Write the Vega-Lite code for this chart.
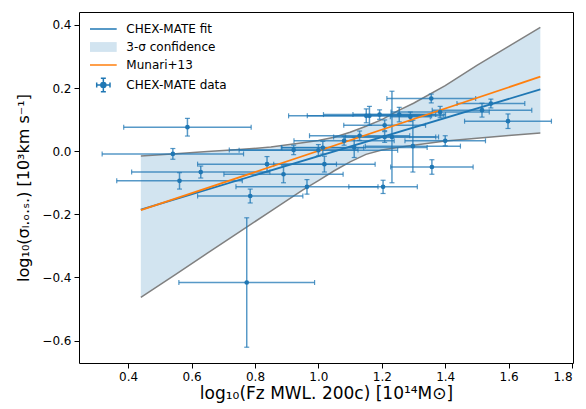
{
  "$schema": "https://vega.github.io/schema/vega-lite/v6.json",
  "width": 494,
  "height": 351,
  "autosize": "none",
  "padding": {"left": 79, "top": 12, "right": 13, "bottom": 46},
  "config": {
    "font": "DejaVu Sans",
    "view": {"stroke": "#000", "strokeWidth": 1},
    "axis": {
      "grid": false,
      "domain": false,
      "ticks": true,
      "tickColor": "#000",
      "tickSize": 5,
      "tickWidth": 1,
      "labelFontSize": 12,
      "labelColor": "#000",
      "labelPadding": 3,
      "titleFontSize": 16,
      "titleFontWeight": "normal",
      "titleColor": "#000"
    }
  },
  "datasets": {
    "band": [
      {"x": 0.44, "up": -0.015, "lo": -0.463},
      {"x": 0.55, "up": -0.008, "lo": -0.390},
      {"x": 0.65, "up": -0.001, "lo": -0.323},
      {"x": 0.75, "up": 0.005, "lo": -0.256},
      {"x": 0.85, "up": 0.013, "lo": -0.190},
      {"x": 0.95, "up": 0.027, "lo": -0.123},
      {"x": 1.0, "up": 0.034, "lo": -0.093},
      {"x": 1.05, "up": 0.044, "lo": -0.062},
      {"x": 1.1, "up": 0.060, "lo": -0.034},
      {"x": 1.15, "up": 0.079, "lo": -0.010},
      {"x": 1.2, "up": 0.100, "lo": 0.004},
      {"x": 1.25, "up": 0.128, "lo": 0.012},
      {"x": 1.3, "up": 0.152, "lo": 0.019},
      {"x": 1.4, "up": 0.208, "lo": 0.032},
      {"x": 1.5, "up": 0.272, "lo": 0.041},
      {"x": 1.6, "up": 0.332, "lo": 0.050},
      {"x": 1.7, "up": 0.392, "lo": 0.058}
    ],
    "fit": [
      {"x": 0.44, "y": -0.185},
      {"x": 1.70, "y": 0.196}
    ],
    "munari": [
      {"x": 0.44, "y": -0.187},
      {"x": 1.70, "y": 0.236}
    ],
    "pts": [
      {"x": 0.587, "y": 0.076, "xlo": 0.386, "xhi": 0.788, "ylo": 0.048, "yhi": 0.104},
      {"x": 0.541, "y": -0.0085, "xlo": 0.318, "xhi": 0.764, "ylo": -0.0255, "yhi": 0.0085},
      {"x": 0.629, "y": -0.066, "xlo": 0.411, "xhi": 0.847, "ylo": -0.085, "yhi": -0.047},
      {"x": 0.562, "y": -0.094, "xlo": 0.364, "xhi": 0.760, "ylo": -0.120, "yhi": -0.068},
      {"x": 0.838, "y": -0.041, "xlo": 0.619, "xhi": 1.057, "ylo": -0.065, "yhi": -0.017},
      {"x": 1.019, "y": -0.041, "xlo": 0.859, "xhi": 1.179, "ylo": -0.066, "yhi": -0.016},
      {"x": 0.890, "y": -0.073, "xlo": 0.702, "xhi": 1.078, "ylo": -0.100, "yhi": -0.046},
      {"x": 0.785, "y": -0.142, "xlo": 0.619, "xhi": 0.951, "ylo": -0.164, "yhi": -0.120},
      {"x": 0.964, "y": -0.113, "xlo": 0.740, "xhi": 1.188, "ylo": -0.136, "yhi": -0.090},
      {"x": 1.204, "y": -0.113, "xlo": 1.096, "xhi": 1.312, "ylo": -0.134, "yhi": -0.092},
      {"x": 0.774, "y": -0.416, "xlo": 0.560, "xhi": 0.988, "ylo": -0.621, "yhi": -0.211},
      {"x": 0.922, "y": 0.004, "xlo": 0.719, "xhi": 1.125, "ylo": -0.011, "yhi": 0.019},
      {"x": 1.000, "y": 0.003, "xlo": 0.750, "xhi": 1.250, "ylo": -0.015, "yhi": 0.021},
      {"x": 1.014, "y": 0.011, "xlo": 0.885, "xhi": 1.143, "ylo": -0.009, "yhi": 0.031},
      {"x": 1.081, "y": 0.033, "xlo": 0.923, "xhi": 1.239, "ylo": 0.019, "yhi": 0.047},
      {"x": 1.130, "y": 0.049, "xlo": 0.972, "xhi": 1.288, "ylo": 0.034, "yhi": 0.064},
      {"x": 1.113, "y": 0.012, "xlo": 0.883, "xhi": 1.343, "ylo": -0.020, "yhi": 0.044},
      {"x": 1.209, "y": 0.045, "xlo": 1.048, "xhi": 1.370, "ylo": 0.028, "yhi": 0.062},
      {"x": 1.232, "y": 0.045, "xlo": 1.085, "xhi": 1.379, "ylo": -0.100, "yhi": 0.190},
      {"x": 1.209, "y": 0.082, "xlo": 1.080, "xhi": 1.338, "ylo": 0.065, "yhi": 0.099},
      {"x": 1.298, "y": 0.016, "xlo": 1.148, "xhi": 1.448, "ylo": -0.066, "yhi": 0.098},
      {"x": 1.358, "y": -0.050, "xlo": 1.228, "xhi": 1.488, "ylo": -0.073, "yhi": -0.027},
      {"x": 1.400, "y": 0.033, "xlo": 1.273, "xhi": 1.527, "ylo": 0.017, "yhi": 0.049},
      {"x": 1.356, "y": 0.167, "xlo": 1.216, "xhi": 1.496, "ylo": 0.153, "yhi": 0.181},
      {"x": 1.384, "y": 0.124, "xlo": 1.229, "xhi": 1.539, "ylo": 0.106, "yhi": 0.142},
      {"x": 1.516, "y": 0.130, "xlo": 1.359, "xhi": 1.673, "ylo": 0.108, "yhi": 0.152},
      {"x": 1.544, "y": 0.151, "xlo": 1.437, "xhi": 1.651, "ylo": 0.137, "yhi": 0.165},
      {"x": 1.598, "y": 0.095, "xlo": 1.461, "xhi": 1.735, "ylo": 0.072, "yhi": 0.118},
      {"x": 1.255, "y": 0.116, "xlo": 1.109, "xhi": 1.401, "ylo": 0.093, "yhi": 0.139},
      {"x": 1.193, "y": 0.116, "xlo": 1.016, "xhi": 1.370, "ylo": 0.101, "yhi": 0.131},
      {"x": 1.161, "y": 0.112, "xlo": 0.965, "xhi": 1.357, "ylo": 0.082, "yhi": 0.142},
      {"x": 1.151, "y": 0.112, "xlo": 0.906, "xhi": 1.396, "ylo": 0.090, "yhi": 0.134},
      {"x": 1.290, "y": 0.109, "xlo": 1.227, "xhi": 1.353, "ylo": 0.094, "yhi": 0.124}
    ],
    "legend": [
      {"entry": "CHEX-MATE fit"},
      {"entry": "3-σ confidence"},
      {"entry": "Munari+13"},
      {"entry": "CHEX-MATE data"}
    ]
  },
  "layer": [
    {
      "data": {"name": "band"},
      "mark": {"type": "area", "color": "#d2e4f0", "opacity": 1},
      "encoding": {
        "x": {
          "field": "x", "type": "quantitative",
          "title": "log₁₀(Fz MWL. 200c) [10¹⁴M⊙]",
          "scale": {"domain": [0.245, 1.803], "nice": false, "zero": false},
          "axis": {"values": [0.4, 0.6, 0.8, 1.0, 1.2, 1.4, 1.6, 1.8], "format": ".1f", "titlePadding": 3, "titleFontSize": 17}
        },
        "y": {
          "field": "up", "type": "quantitative",
          "title": "log₁₀(σₗ.ₒ.ₛ.) [10³km s⁻¹]",
          "scale": {"domain": [-0.671, 0.441], "nice": false, "zero": false},
          "axis": {"values": [-0.6, -0.4, -0.2, 0.0, 0.2, 0.4], "format": ".1f", "titlePadding": 10}
        },
        "y2": {"field": "lo"}
      }
    },
    {
      "data": {"name": "band"},
      "mark": {"type": "line", "color": "#808080", "strokeWidth": 1.5},
      "encoding": {
        "x": {"field": "x", "type": "quantitative", "title": "log₁₀(Fz MWL. 200c) [10¹⁴M⊙]"},
        "y": {"field": "up", "type": "quantitative", "title": "log₁₀(σₗ.ₒ.ₛ.) [10³km s⁻¹]"}
      }
    },
    {
      "data": {"name": "band"},
      "mark": {"type": "line", "color": "#808080", "strokeWidth": 1.5},
      "encoding": {
        "x": {"field": "x", "type": "quantitative", "title": "log₁₀(Fz MWL. 200c) [10¹⁴M⊙]"},
        "y": {"field": "lo", "type": "quantitative", "title": "log₁₀(σₗ.ₒ.ₛ.) [10³km s⁻¹]"}
      }
    },
    {
      "data": {"name": "pts"},
      "mark": {"type": "errorbar", "color": "#1f77b4", "thickness": 1.5, "rule": {"opacity": 0.75}, "ticks": {"size": 5, "opacity": 0.75, "thickness": 1.2}},
      "encoding": {
        "x": {"field": "xlo", "type": "quantitative", "title": "log₁₀(Fz MWL. 200c) [10¹⁴M⊙]"},
        "x2": {"field": "xhi"},
        "y": {"field": "y", "type": "quantitative", "title": "log₁₀(σₗ.ₒ.ₛ.) [10³km s⁻¹]"}
      }
    },
    {
      "data": {"name": "pts"},
      "mark": {"type": "errorbar", "color": "#1f77b4", "thickness": 1.5, "rule": {"opacity": 0.75}, "ticks": {"size": 5, "opacity": 0.75, "thickness": 1.2}},
      "encoding": {
        "y": {"field": "ylo", "type": "quantitative", "title": "log₁₀(σₗ.ₒ.ₛ.) [10³km s⁻¹]"},
        "y2": {"field": "yhi"},
        "x": {"field": "x", "type": "quantitative", "title": "log₁₀(Fz MWL. 200c) [10¹⁴M⊙]"}
      }
    },
    {
      "data": {"name": "fit"},
      "mark": {"type": "line", "color": "#1f77b4", "strokeWidth": 1.8},
      "encoding": {
        "x": {"field": "x", "type": "quantitative", "title": "log₁₀(Fz MWL. 200c) [10¹⁴M⊙]"},
        "y": {"field": "y", "type": "quantitative", "title": "log₁₀(σₗ.ₒ.ₛ.) [10³km s⁻¹]"}
      }
    },
    {
      "data": {"name": "munari"},
      "mark": {"type": "line", "color": "#ff7f0e", "strokeWidth": 1.8},
      "encoding": {
        "x": {"field": "x", "type": "quantitative", "title": "log₁₀(Fz MWL. 200c) [10¹⁴M⊙]"},
        "y": {"field": "y", "type": "quantitative", "title": "log₁₀(σₗ.ₒ.ₛ.) [10³km s⁻¹]"}
      }
    },
    {
      "data": {"name": "pts"},
      "mark": {"type": "point", "filled": true, "color": "#1f77b4", "size": 22, "opacity": 1},
      "encoding": {
        "x": {"field": "x", "type": "quantitative", "title": "log₁₀(Fz MWL. 200c) [10¹⁴M⊙]"},
        "y": {"field": "y", "type": "quantitative", "title": "log₁₀(σₗ.ₒ.ₛ.) [10³km s⁻¹]"}
      }
    },
    {
      "data": {"name": "legend"},
      "mark": {"type": "point", "opacity": 0},
      "encoding": {
        "shape": {
          "field": "entry", "type": "nominal",
          "scale": {
            "domain": ["CHEX-MATE fit", "3-σ confidence", "Munari+13", "CHEX-MATE data"],
            "range": [
              "M-2.67,0H2.67",
              "M-2.67,-0.98H2.67V0.98H-2.67Z",
              "M-2.67,0H2.67",
              "M-1.33,0H1.33M0,-1.33V1.33M-1.33,-0.5V0.5M1.33,-0.5V0.5M-0.5,-1.33H0.5M-0.5,1.33H0.5M0.5,0A0.5,0.5 0 1,1 -0.5,0A0.5,0.5 0 1,1 0.5,0Z"
            ]
          },
          "legend": {
            "title": null,
            "orient": "none",
            "legendX": 11,
            "legendY": 11,
            "symbolSize": 100,
            "symbolOffset": 7.35,
            "symbolStrokeWidth": 1.5,
            "symbolOpacity": 1,
            "labelFontSize": 12,
            "labelColor": "#000",
            "labelOffset": 17,
            "rowPadding": 4,
            "padding": 0
          }
        },
        "fill": {
          "field": "entry", "type": "nominal",
          "scale": {
            "domain": ["CHEX-MATE fit", "3-σ confidence", "Munari+13", "CHEX-MATE data"],
            "range": ["transparent", "#d2e4f0", "transparent", "#1f77b4"]
          }
        },
        "stroke": {
          "field": "entry", "type": "nominal",
          "scale": {
            "domain": ["CHEX-MATE fit", "3-σ confidence", "Munari+13", "CHEX-MATE data"],
            "range": ["#1f77b4", "transparent", "#ff7f0e", "#1f77b4"]
          }
        }
      }
    }
  ]
}
